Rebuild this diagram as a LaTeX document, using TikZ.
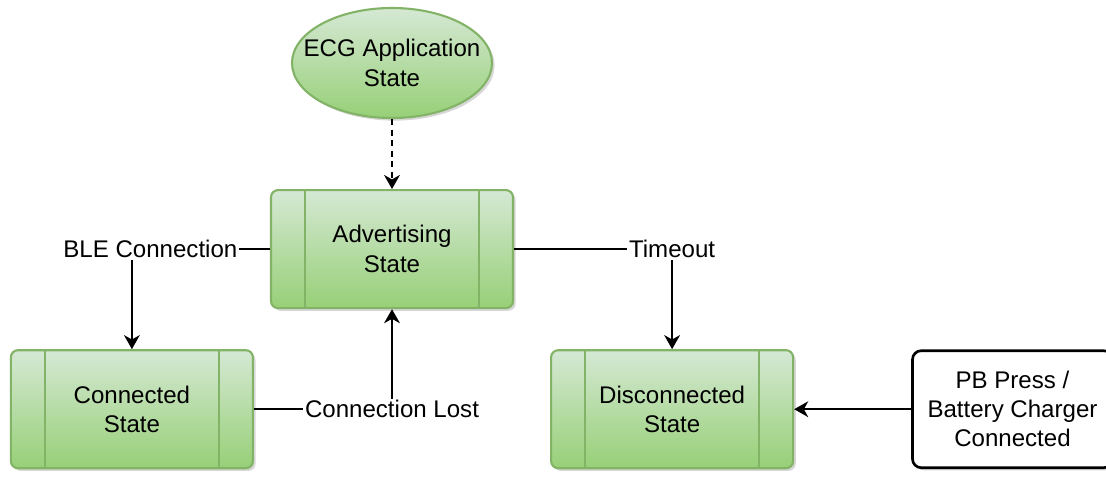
\documentclass[tikz,border=0pt]{standalone}
\usepackage{fontspec}
\setmainfont{Liberation Sans}
\usepackage{tikz}
\usetikzlibrary{arrows.meta, positioning, shapes.geometric, shadows}
\definecolor{stateline}{HTML}{82B366}
\definecolor{statetop}{HTML}{D5E8D4}
\definecolor{statebottom}{HTML}{97D077}

\begin{document}
\begin{tikzpicture}[>={Stealth[length=8pt,width=9pt,inset=2.5pt]},line width=0.9pt,
    font=\fontsize{13.7}{16.8}\selectfont]
  \tikzstyle{green shade}=[top color=statetop,bottom color=statebottom,draw=stateline,line width=1.2pt,
    drop shadow={shadow xshift=1.5pt,shadow yshift=-1.5pt,fill=black!35,opacity=0.45}]
  \tikzstyle{app state}=[green shade,ellipse,minimum width=4cm,minimum height=2.2cm,inner sep=0pt]
  \tikzstyle{ble state}=[green shade,rectangle,rounded corners=4pt,align=center,
    minimum width=4.84cm,minimum height=2.36cm,
    path picture={\draw[stateline,line width=1.2pt]
      ([xshift=0.68cm]path picture bounding box.north west) -- ([xshift=0.68cm]path picture bounding box.south west)
      ([xshift=-0.68cm]path picture bounding box.north east) -- ([xshift=-0.68cm]path picture bounding box.south east);}]
  \tikzstyle{trigger}=[draw,fill=white,line width=1.5pt,rounded corners=5pt,align=center,
    minimum width=4cm,minimum height=2.34cm,font=\fontsize{13.7}{16.5}\selectfont,
    drop shadow={shadow xshift=1.5pt,shadow yshift=-1.5pt,fill=black!35,opacity=0.45}]
  \tikzstyle{event}=[fill=white,inner sep=1pt]

  \useasboundingbox (-7.84,1.26) rectangle (14.28,-8.26);

  \node[app state,label={[align=center]center:ECG Application\\State}] (ecg) {};
  \node[ble state] (adv)  [below=1.40cm of ecg]                {Advertising\\State};
  \node[ble state] (conn) [below left=0.80cm and 0.32cm of adv]  {Connected\\State};
  \node[ble state] (disc) [below right=0.80cm and 0.72cm of adv] {Disconnected\\State};
  \node[trigger]   (pb)   [right=2.34cm of disc]                 {PB Press /\\Battery Charger\\Connected};

  \draw[->,dashed,dash pattern=on 3.5pt off 2.5pt] (ecg) -- (adv);
  \draw[->] (adv) -| node[event,pos=0.433] {BLE Connection} (conn);
  \draw[->] (adv) -| node[event] {Timeout} (disc);
  \draw[->] (conn) -| node[event] {Connection Lost} (adv);
  \draw[->] (pb) -- (disc);
\end{tikzpicture}
\end{document}
